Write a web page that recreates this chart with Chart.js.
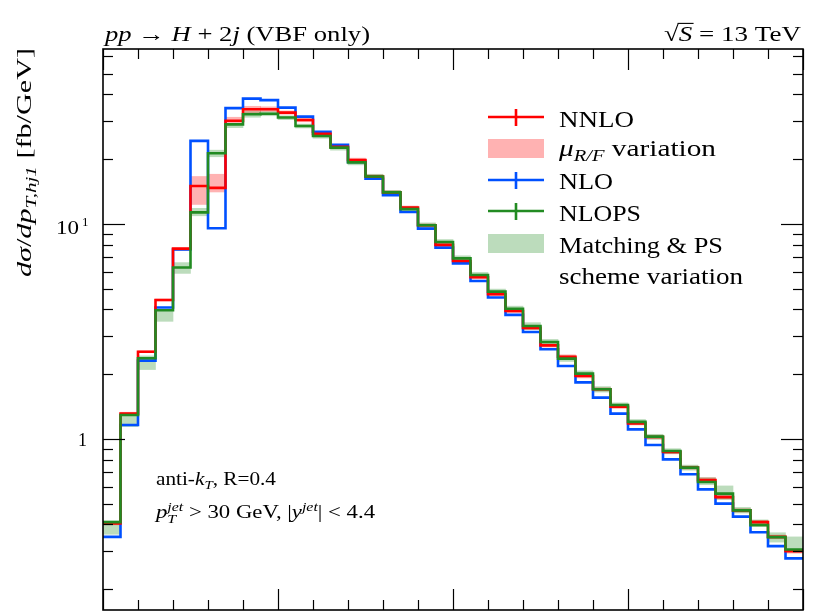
<!DOCTYPE html>
<html>
<head>
<meta charset="utf-8">
<script src="https://cdn.jsdelivr.net/npm/chart.js@4/dist/chart.umd.min.js"></script>
<style>html,body{margin:0;padding:0;background:#fff;overflow:hidden}</style>
</head>
<body>
<canvas id="c" width="830" height="613" style="display:block"></canvas>
<script>
// ---- data (bins of p_T,hj1, 5 GeV wide, lower edges) ----
const binStart = [0,5,10,15,20,25,30,35,40,45,50,55,60,65,70,75,80,85,90,95,
                  100,105,110,115,120,125,130,135,140,145,150,155,160,165,170,175,180,185,190,195];
const binEnd = 200;
const nnlo = [0.404,1.31,2.54,4.42,7.67,15.0,14.7,30.1,34.1,34.1,
              32.9,30.4,26.2,22.8,19.8,16.6,14.0,11.9,9.84,7.98,
              6.72,5.64,4.70,3.93,3.28,2.72,2.41,1.96,1.70,1.41,
              1.18,1.02,0.868,0.735,0.643,0.536,0.465,0.41,0.35,0.30];
const nnloLo = [0.398,1.30,2.52,4.38,7.50,12.3,14.06,29.8,32.8,33.3,
                32.3,29.8,25.7,22.4,19.4,16.3,13.75,11.7,9.66,7.84,
                6.60,5.54,4.62,3.86,3.22,2.67,2.36,1.92,1.67,1.385,
                1.16,1.0,0.852,0.722,0.628,0.525,0.456,0.402,0.343,0.294];
const nnloHi = [0.41,1.33,2.57,4.47,7.72,16.6,17.0,31.3,35.2,35.0,
                33.5,31.0,26.7,23.3,20.2,16.9,14.25,12.1,10.0,8.12,
                6.84,5.74,4.78,4.0,3.34,2.77,2.46,2.0,1.73,1.435,
                1.2,1.04,0.884,0.748,0.66,0.548,0.474,0.418,0.357,0.306];
const nlo = [0.35,1.16,2.31,4.08,7.6,24.3,9.53,34.5,38.2,37.6,
             34.7,31.5,26.8,23.3,19.4,16.2,13.6,11.35,9.5,7.75,
             6.55,5.42,4.54,3.77,3.14,2.61,2.18,1.83,1.555,1.31,
             1.107,0.936,0.803,0.684,0.582,0.50,0.435,0.368,0.317,0.278];
const nlops = [0.41,1.29,2.37,3.96,6.26,11.3,21.3,29.0,32.3,32.5,
               31.2,28.5,25.6,22.6,19.3,16.6,14.0,11.7,9.84,8.23,
               6.91,5.78,4.84,4.03,3.35,2.82,2.36,2.01,1.70,1.436,
               1.20,1.024,0.878,0.735,0.63,0.556,0.465,0.397,0.349,0.306];
const nlopsLo = [0.36,1.14,2.10,3.52,5.88,10.9,20.5,28.0,31.3,31.8,
                 30.5,27.9,25.0,22.0,18.8,16.2,13.6,11.4,9.6,8.0,
                 6.72,5.62,4.71,3.92,3.23,2.74,2.29,1.95,1.65,1.40,
                 1.17,0.995,0.853,0.715,0.612,0.523,0.452,0.393,0.331,0.30];
const nlopsHi = [0.415,1.30,2.43,3.98,6.6,11.8,22.0,29.2,33.2,33.2,
                 31.8,29.1,26.2,23.1,19.7,17.0,14.3,12.0,10.1,8.45,
                 7.1,5.94,4.97,4.14,3.47,2.9,2.43,2.07,1.75,1.47,
                 1.23,1.05,0.9,0.755,0.66,0.604,0.48,0.42,0.366,0.35];
// ---- axis ticks ----
const yMajorTicks = [1, 10];
const yMinorTicks = [0.2,0.3,0.4,0.5,0.6,0.7,0.8,0.9,2,3,4,5,6,7,8,9,20,30,40,50,60];
const xMajorTicks = [0, 50, 100, 150, 200];
const xMinorTicks = [10,20,30,40,60,70,80,90,110,120,130,140,160,170,180,190];

const RED = '#ff0000', BLUE = 'rgb(0,80,255)', GREEN = 'rgb(34,139,34)';
const PINK = 'rgba(255,0,0,0.3)', LGREEN = 'rgba(34,139,34,0.3)';
const FONT = '"Liberation Serif", "Times New Roman", serif';

function stepData(vals) {
  const d = binStart.map((x, i) => ({x: x, y: vals[i]}));
  d.push({x: binEnd, y: vals[vals.length - 1]});
  return d;
}
function bandData(lo, hi) {
  return binStart.map((x, i) => ({x: x + 2.5, y: [lo[i], hi[i]]}));
}
function lineDS(label, vals, color, order) {
  return {type: 'line', label, data: stepData(vals), borderColor: color, borderWidth: 2.6,
          stepped: true, pointRadius: 0, fill: false, order, borderJoinStyle: 'miter', borderCapStyle: 'butt'};
}
function bandDS(label, lo, hi, color, order) {
  return {type: 'bar', label, data: bandData(lo, hi), backgroundColor: color, borderWidth: 0,
          barPercentage: 1, categoryPercentage: 1, grouped: false, order};
}

// ---- rich text helper ----
function segFont(s, size) {
  const sz = s.small ? size * 0.7 : size;
  return (s.i ? 'italic ' : '') + sz.toFixed(2) + 'px ' + FONT;
}
function segWidth(ctx, s, size) {
  if (s.stack) return Math.max(...s.stack.map(q => { ctx.font = segFont(Object.assign({small: true}, q), size); return ctx.measureText(q.t).width; }));
  ctx.font = segFont(s, size); return ctx.measureText(s.t).width;
}
function richWidth(ctx, segs, size) { return segs.reduce((a, s) => a + segWidth(ctx, s, size), 0); }
function drawRich(ctx, x, y, segs, size, opts) {
  opts = opts || {};
  const w = richWidth(ctx, segs, size);
  const sx = opts.width ? opts.width / w : 1;
  ctx.save();
  ctx.fillStyle = '#000'; ctx.strokeStyle = '#000';
  ctx.textBaseline = 'alphabetic'; ctx.textAlign = 'left';
  ctx.translate(opts.align === 'right' ? x - w * sx : x, y);
  ctx.scale(sx, 1);
  let cx = 0;
  for (const s of segs) {
    if (s.stack) {
      const [sup, sub] = s.stack;
      ctx.font = segFont({i: sup.i, small: true}, size); ctx.fillText(sup.t, cx, -size * 0.38);
      ctx.font = segFont({i: sub.i, small: true}, size); ctx.fillText(sub.t, cx, size * 0.25);
    } else {
      ctx.font = segFont(s, size);
      const dy = s.sub ? size * 0.22 : (s.sup ? -size * 0.38 : 0);
      ctx.fillText(s.t, cx, dy);
      if (s.over) {
        ctx.lineWidth = size * 0.05;
        ctx.beginPath(); ctx.moveTo(cx - 1, -size * 0.80); ctx.lineTo(cx + segWidth(ctx, s, size) + 1, -size * 0.80); ctx.stroke();
      }
    }
    cx += segWidth(ctx, s, size);
  }
  ctx.restore();
}

const decorPlugin = {
  id: 'decor',
  afterDraw(chart) {
    const ctx = chart.ctx, xs = chart.scales.x, ys = chart.scales.y, a = chart.chartArea;
    ctx.save();
    // ticks
    ctx.strokeStyle = '#000'; ctx.lineWidth = 1.2;
    const tick = (x1, y1, x2, y2) => { ctx.beginPath(); ctx.moveTo(x1, y1); ctx.lineTo(x2, y2); ctx.stroke(); };
    for (const v of yMajorTicks) { const p = Math.round(ys.getPixelForValue(v)) + 0.5; tick(a.left, p, a.left + 22, p); tick(a.right, p, a.right - 22, p); }
    for (const v of yMinorTicks) { const p = Math.round(ys.getPixelForValue(v)) + 0.5; tick(a.left, p, a.left + 10, p); tick(a.right, p, a.right - 10, p); }
    for (const v of xMajorTicks) { const p = Math.round(xs.getPixelForValue(v)) + 0.5; tick(p, a.top, p, a.top + 21); tick(p, a.bottom, p, a.bottom - 21); }
    for (const v of xMinorTicks) { const p = Math.round(xs.getPixelForValue(v)) + 0.5; tick(p, a.top, p, a.top + 10); tick(p, a.bottom, p, a.bottom - 10); }
    // frame
    ctx.lineWidth = 1.6;
    ctx.strokeRect(a.left, a.top, a.right - a.left, a.bottom - a.top);

    // y tick labels
    const p1 = ys.getPixelForValue(1), p10 = ys.getPixelForValue(10);
    drawRich(ctx, 79, p10 + 10, [{t: '10'}], 18, {align: 'right', width: 23});
    drawRich(ctx, 82, p10 + 2, [{t: '1'}], 13, {});
    drawRich(ctx, 87, p1 + 7, [{t: '1'}], 18, {align: 'right'});

    // y axis title
    ctx.save();
    ctx.translate(31, 277); ctx.rotate(-Math.PI / 2);
    drawRich(ctx, 0, 0, [{t: 'dσ', i: true}, {t: '/'}, {t: 'dp', i: true}, {t: 'T,hj1', i: true, small: true, sub: true}, {t: ' [fb/GeV]'}], 22, {width: 229});
    ctx.restore();

    // top labels
    drawRich(ctx, 105, 41, [{t: 'pp', i: true}, {t: ' → '}, {t: 'H', i: true}, {t: ' + 2'}, {t: 'j', i: true}, {t: ' (VBF only)'}], 22, {width: 265});
    drawRich(ctx, 801, 41, [{t: '√'}, {t: 'S', i: true, over: true}, {t: ' = 13 TeV'}], 22, {align: 'right', width: 137});

    // annotation
    drawRich(ctx, 156, 485, [{t: 'anti-'}, {t: 'k', i: true}, {t: 'T', i: true, small: true, sub: true}, {t: ', R=0.4'}], 18, {width: 120});
    drawRich(ctx, 156, 518, [{t: 'p', i: true}, {stack: [{t: 'jet', i: true}, {t: 'T', i: true}]}, {t: ' > 30 GeV, |'}, {t: 'y', i: true}, {t: 'jet', i: true, small: true, sup: true}, {t: '| < 4.4'}], 18, {width: 219});

    // legend
    const lx0 = 488, lx1 = 544, lxm = 516, tx = 559, LS = 23;
    const legLine = (y, col) => {
      ctx.strokeStyle = col; ctx.lineWidth = 2.6;
      tick(lx0, y, lx1, y); tick(lxm, y - 8, lxm, y + 9);
    };
    legLine(117, RED);
    drawRich(ctx, tx, 126.7, [{t: 'NNLO'}], LS, {width: 75});
    ctx.fillStyle = PINK; ctx.fillRect(lx0, 139, lx1 - lx0, 19);
    drawRich(ctx, tx, 156, [{t: 'μ', i: true}, {t: 'R/F', i: true, small: true, sub: true}, {t: ' variation'}], LS, {width: 157});
    legLine(180, BLUE);
    drawRich(ctx, tx, 189.3, [{t: 'NLO'}], LS, {width: 54});
    legLine(211, GREEN);
    drawRich(ctx, tx, 220.7, [{t: 'NLOPS'}], LS, {width: 82});
    ctx.fillStyle = LGREEN; ctx.fillRect(lx0, 234, lx1 - lx0, 19);
    drawRich(ctx, tx, 252.7, [{t: 'Matching & PS'}], LS, {width: 164});
    drawRich(ctx, tx, 284, [{t: 'scheme variation'}], LS, {width: 184});
    ctx.restore();
  }
};

new Chart(document.getElementById('c'), {
  type: 'bar',
  data: {
    datasets: [
      bandDS('μR/F variation', nnloLo, nnloHi, PINK, 10),
      bandDS('Matching & PS scheme variation', nlopsLo, nlopsHi, LGREEN, 9),
      lineDS('NLO', nlo, BLUE, 3),
      lineDS('NNLO', nnlo, RED, 2),
      lineDS('NLOPS', nlops, GREEN, 1)
    ]
  },
  options: {
    responsive: false,
    animation: false,
    devicePixelRatio: 1,
    layout: {padding: {left: 103, top: 49, right: 27, bottom: 3}},
    plugins: {legend: {display: false}, tooltip: {enabled: false}, title: {display: false}},
    scales: {
      x: {type: 'linear', min: 0, max: 200, offset: false, display: false},
      y: {type: 'logarithmic', min: 0.16, max: 65, display: false}
    }
  },
  plugins: [decorPlugin]
});
</script>
</body>
</html>
